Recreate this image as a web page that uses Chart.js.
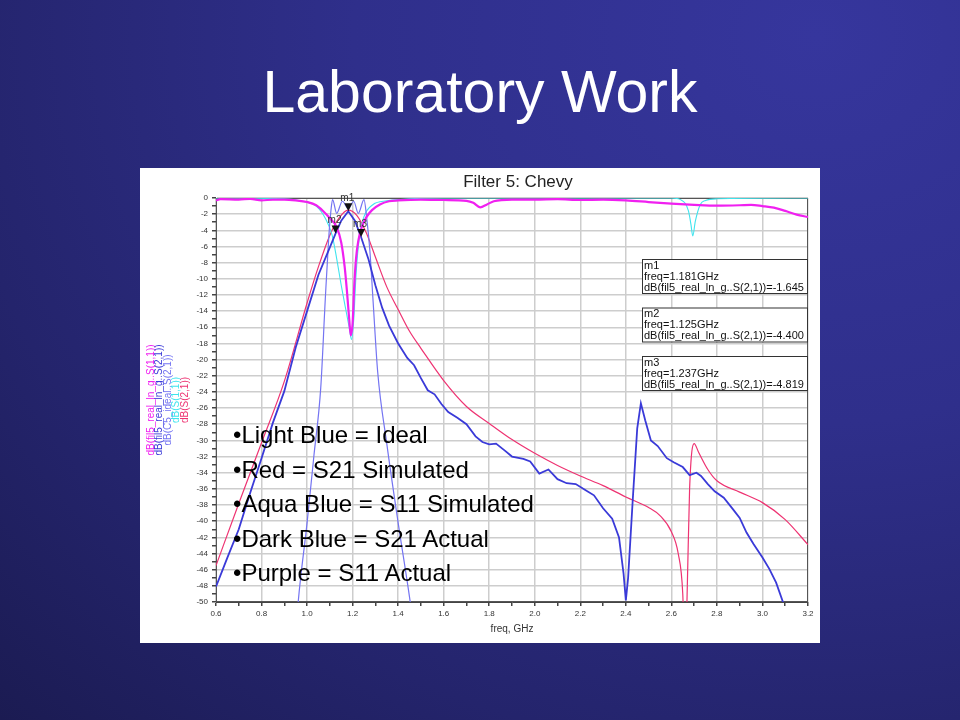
<!DOCTYPE html>
<html>
<head>
<meta charset="utf-8">
<script src="https://cdn.jsdelivr.net/npm/chart.js@4.4.1/dist/chart.umd.min.js"></script>
<style>
    html, body { margin: 0; padding: 0; }
    body {
        width: 960px; height: 720px; overflow: hidden; position: relative;
        background: radial-gradient(ellipse at 85% 5%, #36369d 0%, #2f2f8b 40%, #24246c 75%, #1b1b52 100%);
        font-family: "Liberation Sans", Arial, sans-serif;
    }
    #titulo {
        position: absolute; left: 0; top: 63px; width: 960px;
        text-align: center; color: #fff; font-size: 59px; line-height: 58px;
    }
    #quadro {
        position: absolute; left: 140px; top: 168px; width: 680px; height: 475px; background: #fff;
    }
    #topicos {
        position: absolute; left: 233px; top: 418px; color: #000;
        font-size: 24px; line-height: 34.5px; white-space: nowrap; pointer-events: none;
    }
</style>
</head>
<body>
<div id="titulo">Laboratory Work</div>
<div id="quadro"><canvas id="filtro"></canvas></div>
<div id="topicos">
    <div>•Light Blue = Ideal</div>
    <div>•Red = S21 Simulated</div>
    <div>•Aqua Blue = S11 Simulated</div>
    <div>•Dark Blue = S21 Actual</div>
    <div>•Purple = S11 Actual</div>
</div>
<script>
const tituloGrafico = "Filter 5: Chevy";

const ticksFreq = [0.6, 0.8, 1.0, 1.2, 1.4, 1.6, 1.8, 2.0, 2.2, 2.4, 2.6, 2.8, 3.0, 3.2];
const ticksDb = [0, -2, -4, -6, -8, -10, -12, -14, -16, -18, -20, -22, -24, -26,
    -28, -30, -32, -34, -36, -38, -40, -42, -44, -46, -48, -50];

// S11 medido (roxo)
const freqS11Real = [0.6, 0.62, 0.7, 0.75, 0.8, 0.85, 0.9, 0.95, 1.0, 1.04, 1.07, 1.1, 1.13, 1.15,
    1.165, 1.175, 1.185, 1.192, 1.2, 1.207, 1.215, 1.225, 1.24, 1.26, 1.285, 1.32, 1.36, 1.4,
    1.5, 1.6, 1.7, 1.73, 1.76, 1.79, 1.82, 1.9, 2.0, 2.1, 2.2, 2.3, 2.4, 2.5, 2.6, 2.7, 2.8,
    2.9, 2.95, 3.0, 3.05, 3.1, 3.15, 3.2];
const dbS11Real = [-0.3, -0.15, -0.2, -0.1, -0.3, -0.2, -0.2, -0.3, -0.5, -0.9, -1.6, -2.5, -3.6, -5.5,
    -8.5, -11.5, -15.0, -17.0, -15.5, -11.0, -7.5, -5.3, -3.6, -2.4, -1.5, -0.8, -0.4, -0.3,
    -0.2, -0.25, -0.35, -0.6, -1.15, -0.8, -0.4, -0.2, -0.2, -0.15, -0.25, -0.2, -0.3, -0.5, -0.7, -0.85, -0.95,
    -0.9, -0.85, -1.0, -1.2, -1.6, -2.05, -2.35];

// S21 medido (azul escuro)
const freqS21Real = [0.6, 0.65, 0.7, 0.75, 0.8, 0.85, 0.9, 0.95, 1.0, 1.05, 1.09, 1.125, 1.15, 1.181,
    1.21, 1.237, 1.27, 1.3, 1.33, 1.36, 1.4, 1.44, 1.47, 1.5, 1.53, 1.56, 1.59, 1.62, 1.66, 1.7,
    1.74, 1.77, 1.8, 1.83, 1.87, 1.9, 1.95, 1.98, 2.02, 2.06, 2.1, 2.14, 2.18, 2.22, 2.26, 2.3,
    2.34, 2.37, 2.39, 2.4, 2.41, 2.43, 2.45, 2.466, 2.485, 2.51, 2.54, 2.58, 2.61, 2.65, 2.68,
    2.71, 2.73, 2.76, 2.79, 2.83, 2.87, 2.9, 2.93, 2.96, 3.0, 3.03, 3.06, 3.09, 3.12];
const dbS21Real = [-48.1, -44.5, -41.0, -36.5, -32.2, -27.8, -23.9, -18.5, -14.0, -9.5, -6.8, -4.4, -2.8, -1.645,
    -2.8, -4.819, -7.6, -10.8, -13.6, -15.8, -18.0, -19.8, -20.7, -22.3, -23.8, -24.3, -25.5, -26.5, -27.2, -28.0,
    -29.5, -30.2, -30.5, -30.4, -31.3, -32.0, -32.3, -32.6, -34.1, -33.6, -34.8, -35.3, -35.4, -36.1, -36.8, -38.4,
    -39.7, -42.0, -46.5, -49.8, -47.0, -37.5, -28.5, -25.4, -27.5, -30.0, -30.7, -32.2, -32.7, -33.3, -34.3,
    -34.0, -34.4, -35.4, -36.3, -37.1, -38.5, -39.6, -41.4, -42.8, -44.5, -45.9, -47.6, -50.0, -52.5];

// S21 ideal (azul claro)
const freqIdeal = [0.955, 0.961, 1.0, 1.03, 1.06, 1.08, 1.095, 1.105, 1.112, 1.13, 1.155, 1.181, 1.205,
    1.225, 1.25, 1.262, 1.276, 1.29, 1.31, 1.35, 1.4, 1.452, 1.46];
const dbIdeal = [-52.3, -50.0, -40.2, -31.9, -23.5, -12.5, -5.0, -1.5, -0.2, -1.9, -0.4, -1.3, -0.4,
    -1.9, -0.2, -2.5, -6.6, -12.8, -21.5, -30.4, -40.2, -49.8, -51.5];

// S11 simulado (ciano)
const freqS11Sim = [0.6, 0.9, 0.98, 1.04, 1.08, 1.11, 1.13, 1.15, 1.17, 1.185, 1.195, 1.205, 1.215, 1.23,
    1.25, 1.29, 1.35, 1.45, 1.6, 2.6, 2.64, 2.675, 2.686, 2.694, 2.705, 2.727, 2.75, 2.8, 3.2];
const dbS11Sim = [0, -0.1, -0.4, -1.0, -2.5, -4.6, -7.5, -10.8, -13.8, -16.0, -17.5, -15.0, -9.5, -4.8,
    -2.3, -0.8, -0.35, -0.1, 0, 0, -0.2, -1.6, -3.3, -4.7, -2.9, -0.8, -0.3, -0.1, 0];

// S21 simulado (vermelho)
const freqS21Sim = [0.6, 0.7, 0.8, 0.9, 1.0, 1.05, 1.1, 1.14, 1.18, 1.22, 1.26, 1.3, 1.35, 1.4, 1.45,
    1.5, 1.6, 1.7, 1.8, 1.9, 2.0, 2.1, 2.2, 2.3, 2.4, 2.5, 2.55, 2.6, 2.63, 2.65, 2.66, 2.67, 2.68,
    2.7, 2.72, 2.76, 2.8, 2.9, 3.0, 3.1, 3.2];
const dbS21Sim = [-45.5, -37.8, -30.3, -22.7, -13.0, -8.5, -4.6, -2.5, -1.5, -2.2, -4.3, -7.3, -11.0, -13.8, -16.5,
    -18.6, -22.6, -25.8, -27.9, -29.9, -31.6, -33.1, -34.4, -35.6, -37.0, -38.3, -39.3, -41.3, -44.0, -49.0, -58.0, -48.0, -36.0,
    -30.4, -31.5, -33.6, -35.0, -36.4, -37.7, -39.8, -42.9];

// marcadores
const nomesMarcador = ["m1", "m2", "m3"];
const freqMarcador = [1.181, 1.125, 1.237];
const dbMarcador = [-1.645, -4.400, -4.819];
const rotuloMarcador = "dB(fil5_real_ln_g..S(2,1))";

const pontos = (fs, vs) => fs.map((f, i) => ({ x: f, y: vs[i] }));
const ehTick = (lista, v) => lista.some(t => Math.abs(t - v) < 1e-6);

const tituloPlugin = {
    id: "tituloFiltro",
    afterDraw(chart) {
        const { ctx, chartArea } = chart;
        ctx.save();
        ctx.font = "17px 'Liberation Sans', Arial, sans-serif";
        ctx.fillStyle = "#222";
        ctx.textAlign = "center";
        ctx.textBaseline = "middle";
        ctx.fillText(tituloGrafico, (chartArea.left + chartArea.right) / 2 + 6, 14);
        ctx.restore();
    }
};

const molduraPlugin = {
    id: "moldura",
    beforeDatasetsDraw(chart) {
        const { ctx, chartArea } = chart;
        ctx.save();
        ctx.strokeStyle = "#555";
        ctx.lineWidth = 1;
        ctx.strokeRect(chartArea.left + 0.5, chartArea.top + 0.5, chartArea.width - 1, chartArea.height - 1);
        ctx.restore();
    }
};

const legendaLateralPlugin = {
    id: "legendaLateral",
    afterDraw(chart) {
        const { ctx, chartArea } = chart;
        const cy = (chartArea.top + chartArea.bottom) / 2;
        ctx.save();
        ctx.font = "10px 'Liberation Sans', Arial, sans-serif";
        ctx.textAlign = "center";
        ctx.textBaseline = "middle";
        chart.data.datasets.filter(d => !d.marcador).forEach((d, i) => {
            ctx.save();
            ctx.translate(11 + i * 8.5, cy);
            ctx.rotate(-Math.PI / 2);
            ctx.fillStyle = d.borderColor;
            ctx.fillText(d.label, 0, 0);
            ctx.restore();
        });
        ctx.restore();
    }
};

const marcadoresPlugin = {
    id: "marcadores",
    afterDraw(chart) {
        const { ctx, chartArea } = chart;
        const idx = chart.data.datasets.findIndex(d => d.marcador);
        const meta = chart.getDatasetMeta(idx);
        ctx.save();
        ctx.font = "10px 'Liberation Sans', Arial, sans-serif";
        meta.data.forEach((pt, i) => {
            const { x, y } = pt;
            ctx.fillStyle = "#111";
            ctx.beginPath();
            ctx.moveTo(x - 4, y - 8);
            ctx.lineTo(x + 4, y - 8);
            ctx.lineTo(x, y);
            ctx.closePath();
            ctx.fill();
            ctx.fillStyle = "#333";
            ctx.textAlign = "center";
            ctx.textBaseline = "bottom";
            ctx.fillText(nomesMarcador[i], x - 1, y - 8);
        });

        ctx.font = "11px 'Liberation Sans', Arial, sans-serif";
        ctx.textAlign = "left";
        ctx.textBaseline = "alphabetic";
        nomesMarcador.forEach((nome, i) => {
            const bx = chartArea.right - 166;
            const by = chartArea.top + 61 + i * 48.5;
            ctx.fillStyle = "#fff";
            ctx.fillRect(bx, by, 165, 34);
            ctx.strokeStyle = "#333";
            ctx.lineWidth = 1;
            ctx.strokeRect(bx + 0.5, by + 0.5, 165, 34);
            ctx.fillStyle = "#111";
            ctx.fillText(nome, bx + 2, by + 9.5);
            ctx.fillText(`freq=${freqMarcador[i].toFixed(3)}GHz`, bx + 2, by + 20.5);
            ctx.fillText(`${rotuloMarcador}=${dbMarcador[i].toFixed(3)}`, bx + 2, by + 31.5);
        });
        ctx.restore();
    }
};

const serie = (label, fs, vs, cor, largura, suave) => ({
    label,
    data: pontos(fs, vs),
    borderColor: cor,
    borderWidth: largura,
    pointRadius: 0,
    fill: false,
    cubicInterpolationMode: suave ? "monotone" : "default",
    tension: 0
});

new Chart(document.getElementById("filtro"), {
    type: "line",
    data: {
        datasets: [
            {
                label: "marcadores",
                marcador: true,
                data: pontos(freqMarcador, dbMarcador),
                showLine: false,
                pointRadius: 0
            },
            serie("dB(fil5_real_ln_g..S(1,1))", freqS11Real, dbS11Real, "#f020f0", 2.2, true),
            serie("dB(fil5_real_ln_g..S(2,1))", freqS21Real, dbS21Real, "#3a3ad8", 1.8, false),
            serie("dB(C5_ideal..S(2,1))", freqIdeal, dbIdeal, "#7474f2", 1.2, true),
            serie("dB(S(1,1))", freqS11Sim, dbS11Sim, "#3fe4ee", 1.1, true),
            serie("dB(S(2,1))", freqS21Sim, dbS21Sim, "#ee3372", 1.2, true)
        ]
    },
    plugins: [molduraPlugin, tituloPlugin, legendaLateralPlugin, marcadoresPlugin],
    options: {
        responsive: true,
        maintainAspectRatio: false,
        animation: false,
        events: [],
        layout: { padding: { top: 30, right: 12, bottom: 0, left: 0 } },
        plugins: {
            legend: { display: false },
            title: { display: false },
            tooltip: { enabled: false }
        },
        scales: {
            x: {
                type: "linear",
                min: 0.6,
                max: 3.2,
                afterFit: s => { s.height = 41; },
                border: { color: "#444", width: 1 },
                grid: {
                    color: c => ehTick(ticksFreq, c.tick.value) ? "#cdcdcd" : "rgba(0,0,0,0)",
                    lineWidth: 1.5,
                    tickColor: "#444",
                    tickLength: 4
                },
                ticks: {
                    stepSize: 0.1,
                    autoSkip: false,
                    maxRotation: 0,
                    padding: 3,
                    color: "#333",
                    font: { size: 8, family: "'Liberation Sans', Arial, sans-serif" },
                    callback: v => ehTick(ticksFreq, v) ? v.toFixed(1) : ""
                },
                title: {
                    display: true,
                    text: "freq, GHz",
                    color: "#333",
                    font: { size: 10, family: "'Liberation Sans', Arial, sans-serif" },
                    padding: { top: 0, bottom: 8 }
                }
            },
            y: {
                min: -50,
                max: 0,
                afterFit: s => { s.width = 76; },
                border: { color: "#444", width: 1 },
                grid: {
                    color: c => ehTick(ticksDb, c.tick.value) ? "#cdcdcd" : "rgba(0,0,0,0)",
                    lineWidth: 1.5,
                    tickColor: "#444",
                    tickLength: 4
                },
                ticks: {
                    stepSize: 1,
                    autoSkip: false,
                    padding: 4,
                    color: "#333",
                    font: { size: 8, family: "'Liberation Sans', Arial, sans-serif" },
                    callback: v => ehTick(ticksDb, v) ? String(v) : ""
                }
            }
        }
    }
});
</script>
</body>
</html>
